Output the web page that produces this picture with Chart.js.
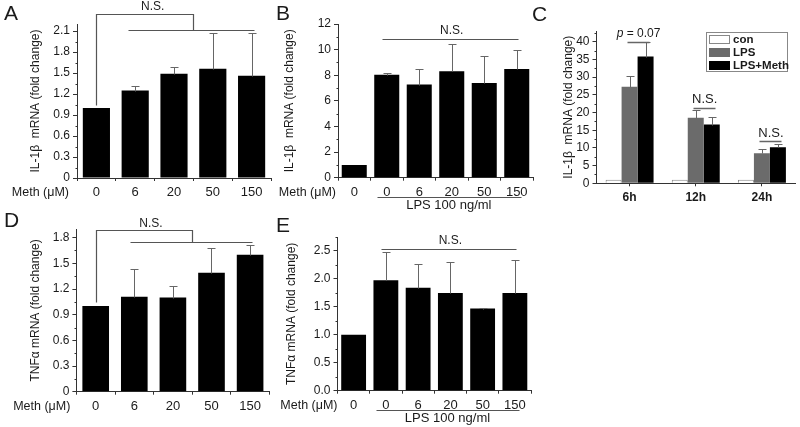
<!DOCTYPE html>
<html>
<head>
<meta charset="utf-8">
<script src="https://cdn.jsdelivr.net/npm/chart.js@4.4.1/dist/chart.umd.min.js"></script>
<style>
  html, body { margin: 0; padding: 0; background: #fff; }
  #fig { position: relative; width: 800px; height: 427px; overflow: hidden; background: #fff; }
  #fig canvas { position: absolute; }
</style>
</head>
<body>
<div id="fig">
  <canvas id="cA"></canvas>
  <canvas id="cB"></canvas>
  <canvas id="cC"></canvas>
  <canvas id="cD"></canvas>
  <canvas id="cE"></canvas>
</div>
<script>
// ---- data ----
const methDoses = ['0', '6', '20', '50', '150'];
const lpsDoses = ['0', '0', '6', '20', '50', '150'];
const timePoints = ['6h', '12h', '24h'];

// A: IL-1b, Meth alone
const il1bMeth = [1.0, 1.25, 1.49, 1.56, 1.46];
const il1bMethErr = [0, 0.06, 0.10, 0.51, 0.61];
// B: IL-1b, Meth + LPS
const il1bLps = [1.0, 8.03, 7.27, 8.31, 7.4, 8.49];
const il1bLpsErr = [0, 0.12, 1.25, 2.16, 2.13, 1.51];
// C: IL-1b time course
const conTime = [1, 1, 1];
const lpsTime = [27.3, 18.5, 8.5];
const lpsTimeErr = [3.0, 2.3, 1.1];
const lpsMethTime = [35.8, 16.6, 10.2];
const lpsMethTimeErr = [4.0, 2.0, 0.8];
// D: TNFa, Meth alone
const tnfMeth = [1.0, 1.11, 1.10, 1.39, 1.6];
const tnfMethErr = [0, 0.32, 0.135, 0.29, 0.115];
// E: TNFa, Meth + LPS
const tnfLps = [1.0, 1.975, 1.84, 1.75, 1.47, 1.75];
const tnfLpsErr = [0, 0.5, 0.43, 0.55, 0.01, 0.59];

// ---- styling ----
const FONT = "'Liberation Sans', Arial, Helvetica, sans-serif";
const INK = '#1a1a1a';
const AXIS = '#333';
const LINE = '#555';
Chart.defaults.font.family = FONT;
Chart.defaults.color = INK;

// ==================== helpers ====================
function path(ctx, pts, color, width) {
  ctx.save();
  ctx.strokeStyle = color || LINE;
  ctx.lineWidth = width || 1.2;
  ctx.beginPath();
  pts.forEach((pt, i) => {
    const x = Math.round(pt[0]) + 0.5, y = Math.round(pt[1]) + 0.5;
    if (i === 0) ctx.moveTo(x, y); else ctx.lineTo(x, y);
  });
  ctx.stroke();
  ctx.restore();
}

function txt(ctx, s, x, y, font, align) {
  ctx.save();
  ctx.font = font;
  ctx.fillStyle = INK;
  ctx.textAlign = align || 'center';
  ctx.textBaseline = 'middle';
  ctx.fillText(s, x, y);
  ctx.restore();
}

function fmt1(v) { return v === 0 ? '0' : v.toFixed(1); }

// ==================== panel factory ====================
function makePanel(p) {
  const cv = document.getElementById(p.id);
  const [bx, by, bw, bh] = p.box;
  cv.width = bw; cv.height = bh;
  cv.style.left = bx + 'px';
  cv.style.top = by + 'px';
  const L = p.area[0] - bx, T = p.area[1] - by, R = p.area[2] - bx, B = p.area[3] - by;
  const padL = p.titleX - bx - 7.2;

  const extras = {
    id: 'extras' + p.id,
    afterDraw(c) {
      const ctx = c.ctx, ca = c.chartArea;
      const X = i => c.scales.x.getPixelForValue(i);
      const Y = v => c.scales.y.getPixelForValue(v);

      // minor ticks on y
      for (let k = 1; k * p.minor <= p.yMax + 1e-9; k += 2) {
        const y = Y(k * p.minor);
        path(ctx, [[ca.left - 2.5, y], [ca.left - 0.5, y]], AXIS, 1);
      }

      // error bars (upper only)
      (p.errs || []).forEach((errs, di) => {
        if (!errs) return;
        const meta = c.getDatasetMeta(di);
        meta.data.forEach((bar, i) => {
          if (!errs[i]) return;
          const v = c.data.datasets[di].data[i];
          const yt = Y(v + errs[i]);
          path(ctx, [[bar.x, bar.y], [bar.x, yt]], '#666', 1);
          path(ctx, [[bar.x - 4, yt], [bar.x + 4, yt]], '#666', 1);
        });
      });

      // panel letter
      txt(ctx, p.letter[0], p.letter[1] - bx, p.letter[2] - by, '21px ' + FONT, 'left');

      // dose row caption
      if (p.methGap !== undefined) {
        txt(ctx, 'Meth (\u03bcM)', ca.left - p.methGap, ca.bottom + 14.8, '12.5px ' + FONT, 'right');
      }

      if (p.draw) p.draw(c, ctx, X, Y);
    }
  };

  return new Chart(cv, {
    type: 'bar',
    data: { labels: p.labels, datasets: p.datasets },
    options: {
      responsive: false,
      animation: false,
      layout: { padding: { left: padL, top: T, right: bw - R, bottom: 0 } },
      plugins: { legend: { display: false }, tooltip: { enabled: false } },
      scales: {
        x: {
          offset: true,
          grid: { offset: p.gridOffset, drawOnChartArea: false, tickLength: 3, tickColor: AXIS },
          border: { color: AXIS },
          ticks: { padding: 4, autoSkip: false, maxRotation: 0, font: p.xFont || { size: 13 } },
          afterFit: s => { s.height = bh - B; }
        },
        y: {
          min: 0,
          max: p.yMax,
          grid: { drawOnChartArea: false, tickLength: 4, tickColor: AXIS },
          border: { color: AXIS },
          ticks: { stepSize: p.yStep, includeBounds: false, padding: 3, font: { size: 12 }, callback: p.fmt },
          title: { display: true, text: p.yTitle, padding: 0, font: { size: 12 } },
          afterFit: s => { s.width = L - padL; }
        }
      }
    },
    plugins: [extras]
  });
}

function blackBars(data, pct) {
  return [{ data: data, backgroundColor: '#000', categoryPercentage: 1, barPercentage: pct }];
}

function lpsUnderline(c, ctx, X) {
  const b = c.chartArea.bottom;
  path(ctx, [[X(0.69), b + 19], [X(5.13), b + 19]], LINE, 1.2);
  txt(ctx, 'LPS 100 ng/ml', X(2.91), b + 27.5, '13px ' + FONT);
}

// ==================== A ====================
makePanel({
  id: 'cA', box: [0, 0, 275, 215], area: [77, 24, 271, 178], titleX: 36,
  letter: ['A', 4, 14], labels: methDoses,
  datasets: blackBars(il1bMeth, 0.7), errs: [il1bMethErr],
  yMax: 2.2, yStep: 0.3, minor: 0.15, fmt: fmt1,
  yTitle: 'IL-1\u03b2  mRNA (fold change)', gridOffset: true, methGap: 8,
  draw(c, ctx, X, Y) {
    path(ctx, [[X(0), Y(1.04)], [X(0), Y(2.34)], [X(2.5), Y(2.34)], [X(2.5), Y(2.11)]]);
    path(ctx, [[X(0.82), Y(2.11)], [X(4.05), Y(2.11)]]);
    txt(ctx, 'N.S.', X(1.45), Y(2.45), '12px ' + FONT);
  }
});

// ==================== B ====================
makePanel({
  id: 'cB', box: [262, 0, 278, 215], area: [338, 24, 533, 177.7], titleX: 290,
  letter: ['B', 276, 14], labels: lpsDoses,
  datasets: blackBars(il1bLps, 0.77), errs: [il1bLpsErr],
  yMax: 12, yStep: 2, minor: 1, fmt: v => v,
  yTitle: 'IL-1\u03b2  mRNA (fold change)', gridOffset: true, methGap: 2,
  draw(c, ctx, X, Y) {
    path(ctx, [[X(0.84), Y(10.79)], [X(5.03), Y(10.79)]]);
    txt(ctx, 'N.S.', X(3), Y(11.5), '12px ' + FONT);
    lpsUnderline(c, ctx, X);
  }
});

// ==================== C ====================
makePanel({
  id: 'cC', box: [528, 0, 272, 215], area: [596.5, 31.1, 795, 183.3], titleX: 569,
  letter: ['C', 532, 15], labels: timePoints,
  datasets: [
    { label: 'con', data: conTime, backgroundColor: '#fff', borderColor: '#888', borderWidth: 1, categoryPercentage: 0.725, barPercentage: 1 },
    { label: 'LPS', data: lpsTime, backgroundColor: '#6b6b6b', categoryPercentage: 0.725, barPercentage: 1 },
    { label: 'LPS+Meth', data: lpsMethTime, backgroundColor: '#000', categoryPercentage: 0.725, barPercentage: 1 }
  ],
  errs: [null, lpsTimeErr, lpsMethTimeErr],
  yMax: 43, yStep: 5, minor: 2.5, fmt: v => v,
  yTitle: 'IL-1\u03b2  mRNA (fold change)', gridOffset: false,
  xFont: { size: 12, weight: 'bold' },
  draw(c, ctx, X, Y) {
    const a = c.getDatasetMeta(1).data, b = c.getDatasetMeta(2).data;
    // significance marks above LPS vs LPS+Meth
    const marks = [[40.0, 42.4, 'p'], [21.3, 23.8, 'N.S.'], [11.95, 14.0, 'N.S.']];
    marks.forEach((m, i) => {
      path(ctx, [[a[i].x - 3, Y(m[0])], [b[i].x + 3, Y(m[0])]], '#666', 1.5);
      const cx = (a[i].x + b[i].x) / 2 + 1;
      if (m[2] === 'p') {
        ctx.save();
        ctx.font = 'italic 12px ' + FONT;
        const w1 = ctx.measureText('p').width;
        ctx.font = '12px ' + FONT;
        const w2 = ctx.measureText(' = 0.07').width;
        ctx.restore();
        const x0 = cx - (w1 + w2) / 2;
        txt(ctx, 'p', x0, Y(m[1]), 'italic 12px ' + FONT, 'left');
        txt(ctx, ' = 0.07', x0 + w1, Y(m[1]), '12px ' + FONT, 'left');
      } else {
        txt(ctx, 'N.S.', cx, Y(m[1]), '13px ' + FONT);
      }
    });
    // legend box
    const ca = c.chartArea;
    const lx = ca.right - 89, ly = ca.top + 0.5;
    ctx.save();
    ctx.strokeStyle = '#888'; ctx.lineWidth = 1;
    ctx.strokeRect(Math.round(lx) + 0.5, Math.round(ly) + 0.5, 81, 39);
    c.data.datasets.forEach((ds, i) => {
      const ry = ly + 3.5 + i * 13;
      ctx.fillStyle = ds.backgroundColor;
      ctx.fillRect(Math.round(lx + 3), Math.round(ry), 21, 9);
      if (ds.borderColor) {
        ctx.strokeStyle = ds.borderColor;
        ctx.strokeRect(Math.round(lx + 3) + 0.5, Math.round(ry) + 0.5, 20, 8);
      }
      txt(ctx, ds.label, lx + 27, ry + 5, 'bold 11.5px ' + FONT, 'left');
    });
    ctx.restore();
  }
});

// ==================== D ====================
makePanel({
  id: 'cD', box: [0, 205, 275, 222], area: [76.4, 229.1, 269.4, 391.7], titleX: 36,
  letter: ['D', 4, 221], labels: methDoses,
  datasets: blackBars(tnfMeth, 0.69), errs: [tnfMethErr],
  yMax: 1.9, yStep: 0.3, minor: 0.15, fmt: fmt1,
  yTitle: 'TNF\u03b1 mRNA (fold change)', gridOffset: true, methGap: 6,
  draw(c, ctx, X, Y) {
    path(ctx, [[X(0), Y(1.05)], [X(0), Y(1.89)], [X(2.49), Y(1.89)], [X(2.49), Y(1.75)]]);
    path(ctx, [[X(0.89), Y(1.75)], [X(4.04), Y(1.75)]]);
    txt(ctx, 'N.S.', X(1.43), Y(1.96), '12px ' + FONT);
  }
});

// ==================== E ====================
makePanel({
  id: 'cE', box: [262, 205, 278, 222], area: [337.5, 237, 531, 390.7], titleX: 292,
  letter: ['E', 276, 226], labels: lpsDoses,
  datasets: blackBars(tnfLps, 0.77), errs: [tnfLpsErr],
  yMax: 2.75, yStep: 0.5, minor: 0.25, fmt: v => v.toFixed(1),
  yTitle: 'TNF\u03b1 mRNA (fold change)', gridOffset: true, methGap: 0,
  draw(c, ctx, X, Y) {
    path(ctx, [[X(0.84), Y(2.535)], [X(5.03), Y(2.535)]]);
    txt(ctx, 'N.S.', X(3), Y(2.68), '12px ' + FONT);
    lpsUnderline(c, ctx, X);
  }
});
</script>
</body>
</html>
